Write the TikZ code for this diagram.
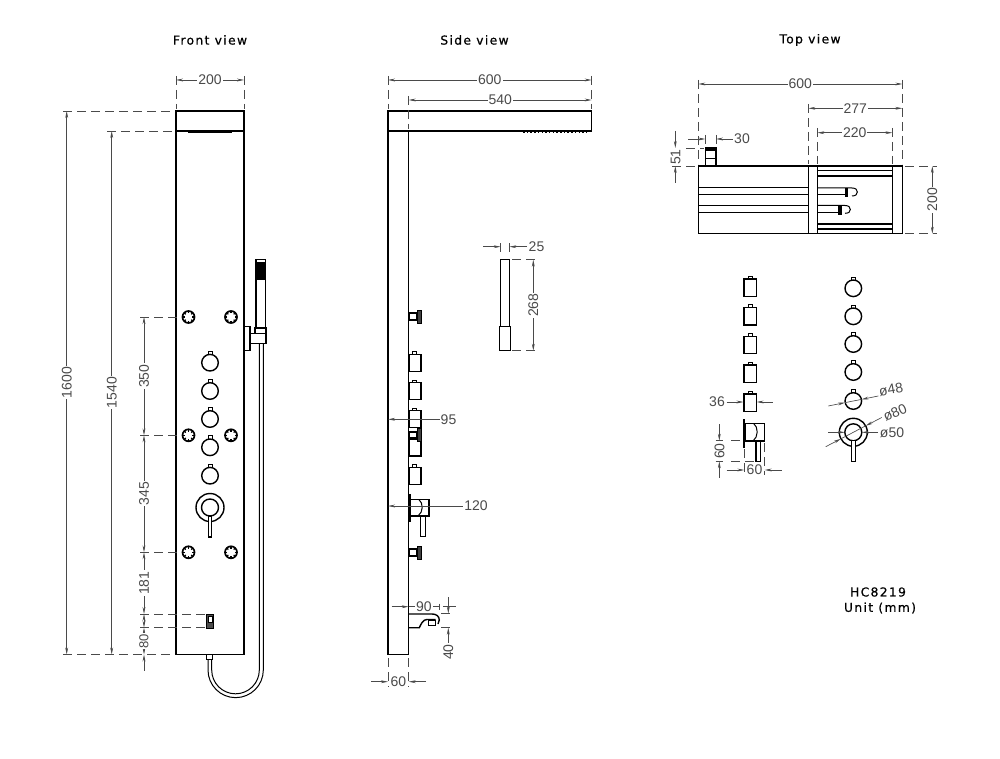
\documentclass[tikz,border=0pt]{standalone}
\usepackage{fontspec}
\setmainfont{Liberation Sans}
\newfontfamily\titlefont[LetterSpace=11,FakeBold=0.5]{DejaVu Sans}
\usetikzlibrary{arrows.meta}
\definecolor{dimgrey}{HTML}{4A4A4A}
\tikzset{
part/.style={line width=1.4pt,black,line join=miter},
thin part/.style={line width=1pt,black},
dimline/.style={line width=0.65pt,dimgrey,>={Stealth[length=7pt,width=2.8pt]}},
extline/.style={line width=0.75pt,dimgrey,dash pattern=on 9pt off 5pt},
dimtext/.style={font=\fontsize{14}{14}\selectfont,text=dimgrey,fill=white,inner sep=1pt},
title/.style={font=\titlefont\fontsize{12.3}{13}\selectfont,black,inner sep=0pt}
}
\begin{document}
\begin{tikzpicture}[x=1pt,y=-1pt]
\useasboundingbox (0,0) rectangle (1000,759);
% titles
\draw (210,40) node[title] (frontTitle) {Front view};
\draw (474.5,40) node[title] (sideTitle) {Side view};
\draw (810,40) node[title] (topTitle) {Top view};
\draw (878,592) node[title] (modelText) {HC8219};
\draw (880,608) node[title] (unitText) {Unit (mm)};

% front view
\draw[part] (176,111) rectangle (244,654.5);
\draw[part] (176,131) -- (244,131);
\draw[line width=2pt] (188,132) -- (232,132);
\foreach \x in {188.5,231}{
\foreach \y in {317,435.3,552.3}{
\draw[line width=1.7pt] (\x,\y) circle[radius=6];
\foreach \a in {0,45,...,315}{
\draw[line width=1.2pt] (\x,\y) ++(\a:3.8) -- ++(\a:2);
}
}
}
\foreach \y in {362.7,391,419,447.3,475.7}{
\draw[part] (210,\y) circle[radius=8.3];
\draw[thin part] (208,\y-8.3) -- (208,\y-11.5) -- (212,\y-11.5) -- (212,\y-8.3);
}
\draw[part] (210,507.5) circle[radius=14];
\draw[part] (210,507.5) circle[radius=8.5];
\draw[part,fill=white] (208.3,516) rectangle (211.7,537);
% wall outlet and hose
\draw[thin part,fill=black!70] (206,614) rectangle (213.3,628);
\draw[thin part,fill=white] (208,616) rectangle (212,622);
\draw[thin part] (206.3,654.5) rectangle (212.3,659.3);
\draw[thin part] (208,659.3) -- (208,670) arc[start angle=180,end angle=0,radius=27.65] -- (263.3,344);
\draw[thin part] (211.7,659.3) -- (211.7,670) arc[start angle=180,end angle=0,radius=23.8] -- (259.3,344);
% hand shower
\draw[part] (256,259.5) rectangle (265.7,328);
\fill[black] (256,262) rectangle (265.7,280);
\draw[part] (255,328) rectangle (266,333.3);
\draw[part] (250,333.3) rectangle (266,343.7);
\draw[part] (244,326.7) rectangle (250,350.7);

% front dimensions
\foreach \x in {176,244}{
\draw[extline] (\x,76) -- (\x,109);
}
\draw[dimline,<->] (176,80) -- node[dimtext] (dimFrontW) {200} (244,80);
\draw[extline] (63,111) -- (175,111);
\draw[extline] (63,654.5) -- (175,654.5);
\draw[extline] (107,131) -- (175,131);
\draw[dimline,<->] (66.7,111) -- node[dimtext,rotate=90] (dimHeight) {1600} (66.7,654.5);
\draw[dimline,<->] (111.7,131) -- node[dimtext,rotate=90] (dimSpray) {1540} (111.7,654.5);
\foreach \y in {317,435.3,552.3}{
\draw[extline] (140,\y) -- (181,\y);
}
\foreach \y in {614,627.7}{
\draw[extline] (140,\y) -- (205,\y);
}
\draw[dimline,<->] (144,317) -- node[dimtext,rotate=90] (dimJetA) {350} (144,435.3);
\draw[dimline,<->] (144,435.3) -- node[dimtext,rotate=90] (dimJetB) {345} (144,552.3);
\draw[dimline,<->] (144,552.3) -- node[dimtext,rotate=90] (dimJetC) {181} (144,614);
\draw[dimline,<->] (144,614) -- (144,627.7);
\draw[dimline,<->] (144,627.7) -- node[dimtext,rotate=90,font=\fontsize{13}{13}\selectfont] (dimBase) {80} (144,654.5);
\draw[dimline,<-] (144,654.5) -- (144,671);

% side view
\draw[part] (388,654.5) -- (388,111) -- (591.7,111) -- (591.7,131) -- (388,131);
\draw[part] (388,654.5) -- (408.7,654.5) -- (408.7,131);
\draw[line width=1.6pt,dash pattern=on 1.5pt off 2.2pt] (523,132) -- (586,132);
\foreach \y in {316.5,552.5}{
\draw[part,fill=white] (409,\y-3.5) rectangle (416.7,\y+3.5);
\draw[line width=1pt,fill=black!75] (417.3,\y-6.5) rectangle (421.5,\y+6.5);
}
\foreach \y in {362.8,391,419,447.5,475.7}{
\draw[part] (409.3,\y-8.5) rectangle (421,\y+8.5);
}
\foreach \y in {362.8,391,419,475.7}{
\draw[thin part] (412.7,\y-8.5) -- (412.7,\y-11) -- (416,\y-11) -- (416,\y-8.5);
}
\draw[part,fill=white] (409,432) rectangle (416.7,438);
\draw[line width=1pt,fill=black!75] (417.3,428.5) rectangle (421.5,441.5);
% side mixer
\draw[line width=2pt] (409.7,494) -- (409.7,521.7);
\draw[part] (410,499.3) rectangle (429,516);
\draw[thin part] (418.7,499.3) .. controls (423.5,503) and (423.5,512) .. (418,516);
\draw[part] (420.7,516) rectangle (425.3,536.7);
% spout
\draw[part] (408.7,614) -- (432,614) .. controls (436,614) and (439.3,616) .. (439.3,620) -- (438,624);
\draw[part] (408.7,627.7) -- (419.3,627.7) .. controls (421,624) and (423,619.5) .. (427,619.5) -- (435.5,619.5);
\draw[thin part] (428.3,620.7) rectangle (435.7,625.7);
% hand shower on its own
\draw[part] (500.7,259.7) rectangle (509.3,326.7);
\draw[part] (499.7,326.7) rectangle (510.3,350.7);

% side dimensions
\foreach \x in {388,591.7}{
\draw[extline] (\x,76) -- (\x,109);
}
\draw[extline] (408.7,96) -- (408.7,129);
\draw[dimline,<->] (388,80) -- node[dimtext] (dimSideW) {600} (591.7,80);
\draw[dimline,<->] (408.7,100) -- node[dimtext] (dimArm) {540} (591.7,100);
\foreach \x in {500.7,509.3}{
\draw[extline] (\x,243) -- (\x,257);
}
\foreach \y in {259.7,350.7}{
\draw[extline] (512,\y) -- (538,\y);
}
\draw[dimline,->] (483,246.7) -- (500.7,246.7);
\draw[dimline,->] (527,246.7) -- (509.3,246.7);
\draw (536.5,246.7) node[dimtext] (dimHandW) {25};
\draw[dimline,<->] (533.3,259.7) -- node[dimtext,rotate=90] (dimHandL) {268} (533.3,350.7);
\draw[dimline,<-] (388,419.3) -- (440,419.3);
\draw (448.5,419.3) node[dimtext] (dimKnob) {95};
\draw[dimline,<-] (388,506) -- (465,506);
\draw (476,506) node[dimtext] (dimMixer) {120};
\draw[dimline,->] (391.7,606.7) -- (408.7,606.7);
\draw[dimline] (408.7,606.7) -- node[dimtext] (dimSpout) {90} (439,606.7);
\draw[dimline] (439,603.5) -- (439,610);
\draw[dimline] (443,606.7) -- (456,606.7);
\foreach \y in {613.5,627.7}{
\draw[extline] (441,\y) -- (453,\y);
}
\draw[dimline,->] (448.3,597) -- (448.3,613.5);
\draw[dimline,<-] (448.3,627.7) -- (448.3,644);
\draw (448.3,652) node[dimtext,rotate=90] (dimSpoutH) {40};
\foreach \x in {388,408.7}{
\draw[extline] (\x,658) -- (\x,687);
}
\draw[dimline,->] (371,681.7) -- (388,681.7);
\draw[dimline,->] (426,681.7) -- (408.7,681.7);
\draw (398.4,681.7) node[dimtext] (dimDepth) {60};

% top view
\draw[part] (698.3,166) rectangle (902.3,233.7);
\foreach \x in {808.3,817.3,892.3}{
\draw[part] (\x,166) -- (\x,233.7);
}
\foreach \y in {187.3,194.3,205.3,212.7}{
\draw[part] (698.3,\y) -- (808.3,\y);
}
\foreach \y in {170.7,176,224,229}{
\draw[part] (817.3,\y) -- (892.3,\y);
}
\draw[thin part] (817.3,188) -- (852,188) .. controls (856,188) and (857.3,190) .. (857.3,192) .. controls (857.3,194) and (856,196) .. (852,196);
\draw[thin part] (817.3,194.3) -- (845,194.3);
\fill (845,188) rectangle (848.3,197.3);
\draw[thin part] (817.3,205.5) -- (845,205.5) .. controls (849,205.5) and (850.3,207.5) .. (850.3,209.5) .. controls (850.3,211.5) and (849,213.3) .. (845,213.3);
\draw[thin part] (817.3,212.7) -- (838,212.7);
\fill (838,206) rectangle (841.7,215.3);
\draw[part] (705.3,166) -- (705.3,148) -- (716,148) -- (716,166);
\fill (705.3,148) rectangle (716,151);
\draw[thin part] (705.3,158.3) -- (716,158.3);

% top dimensions
\foreach \x in {698.3,902.3}{
\draw[extline] (\x,80) -- (\x,164);
}
\draw[extline] (808.3,104) -- (808.3,164);
\foreach \x in {817.3,892.3}{
\draw[extline] (\x,128) -- (\x,164);
}
\draw[dimline,<->] (698.3,84) -- node[dimtext] (dimTopW) {600} (902.3,84);
\draw[dimline,<->] (808.3,108.3) -- node[dimtext] (dimTopA) {277} (902.3,108.3);
\draw[dimline,<->] (817.3,132.7) -- node[dimtext] (dimTopB) {220} (892.3,132.7);
\foreach \x in {705.3,716}{
\draw[extline] (\x,135) -- (\x,147);
}
\draw[dimline,->] (688,139) -- (705.3,139);
\draw[dimline,->] (733,139) -- (716,139);
\draw (742,139) node[dimtext] (dimNub) {30};
\draw[extline] (672,148) -- (704,148);
\draw[extline] (672,166) -- (697,166);
\draw[dimline,->] (675.3,131) -- (675.3,148);
\draw (675.7,157) node[dimtext,rotate=90] (dimNubH) {51};
\draw[dimline,->] (675.3,182.7) -- (675.3,166);
\draw[extline] (905,166) -- (937,166);
\draw[extline] (905,233.7) -- (937,233.7);
\draw[dimline,<->] (932.3,166) -- node[dimtext,rotate=90] (dimTopD) {200} (932.3,233.7);

% loose knobs, side and front
\foreach \y in {287.7,316.4,345,373.7,402.7}{
\draw[part] (744,\y-8.7) rectangle (756.4,\y+8.7);
\draw[thin part] (748,\y-8.7) -- (748,\y-11.7) -- (752.3,\y-11.7) -- (752.3,\y-8.7);
}
\foreach \y in {288.3,316.3,344,372,401}{
\draw[part] (853.3,\y) circle[radius=8.3];
\draw[thin part] (851.3,\y-8.3) -- (851.3,\y-11.3) -- (855.3,\y-11.3) -- (855.3,\y-8.3);
}
% loose mixer, side and front
\draw[line width=2pt] (744.3,419) -- (744.3,447.7);
\draw[part] (745,423.3) rectangle (764.7,441);
\draw[thin part] (753.5,423.3) .. controls (758.5,427) and (758.5,437) .. (753,441);
\draw[part] (756,441) rectangle (760.7,461.7);
\draw[part] (853.3,432.3) circle[radius=14];
\draw[part] (853.3,432.3) circle[radius=8.5];
\draw[part,fill=white] (851.3,440.7) rectangle (855.2,461.7);

% loose part dimensions
\draw[dimline,->] (726.7,402) -- (743.5,402);
\draw[dimline,->] (772.7,402) -- (756.6,402);
\draw (717,402) node[dimtext] (dimKnobW) {36};
\draw[extline] (731,440.7) -- (743,440.7);
\draw[extline] (731,461.3) -- (757,461.3);
\draw[dimline] (715.5,440.7) -- (723,440.7);
\draw[dimline] (715.5,461.3) -- (723,461.3);
\draw[dimline,->] (719.3,424) -- (719.3,440.7);
\draw (719.5,451) node[dimtext,rotate=90] (dimMixerH) {60};
\draw[dimline,->] (719.3,477.7) -- (719.3,461.3);
\draw[extline] (744.3,449) -- (744.3,475);
\draw[extline] (764.7,443) -- (764.7,475);
\draw[dimline,->] (726.7,470) -- (744.3,470);
\draw[dimline,->] (781.7,470) -- (764.7,470);
\draw (754.5,470) node[dimtext] (dimMixerD) {60};
\draw[dimline,->] (828.3,406) -- (845.1,402.6);
\draw[dimline] (845.1,402.6) -- (861.5,399.4);
\draw[dimline,->] (878.3,396) -- (861.5,399.4);
\draw (891,389.5) node[dimtext,rotate=10,fill=none,inner sep=0pt] (dimDiaKnob) {ø48};
\draw[dimline,->] (825.7,446.7) -- (840.9,438.8);
\draw[dimline] (840.9,438.8) -- (865.7,425.8);
\draw[dimline,->] (881.7,417.5) -- (865.7,425.8);
\draw (895,412.5) node[dimtext,rotate=24,fill=none,inner sep=0pt] (dimDiaOuter) {ø80};
\draw[dimline,->] (828.3,432.3) -- (844.8,432.3);
\draw[dimline,->] (878,432.3) -- (861.8,432.3);
\draw (892,433) node[dimtext,inner sep=0pt] (dimDiaInner) {ø50};
\end{tikzpicture}
\end{document}
